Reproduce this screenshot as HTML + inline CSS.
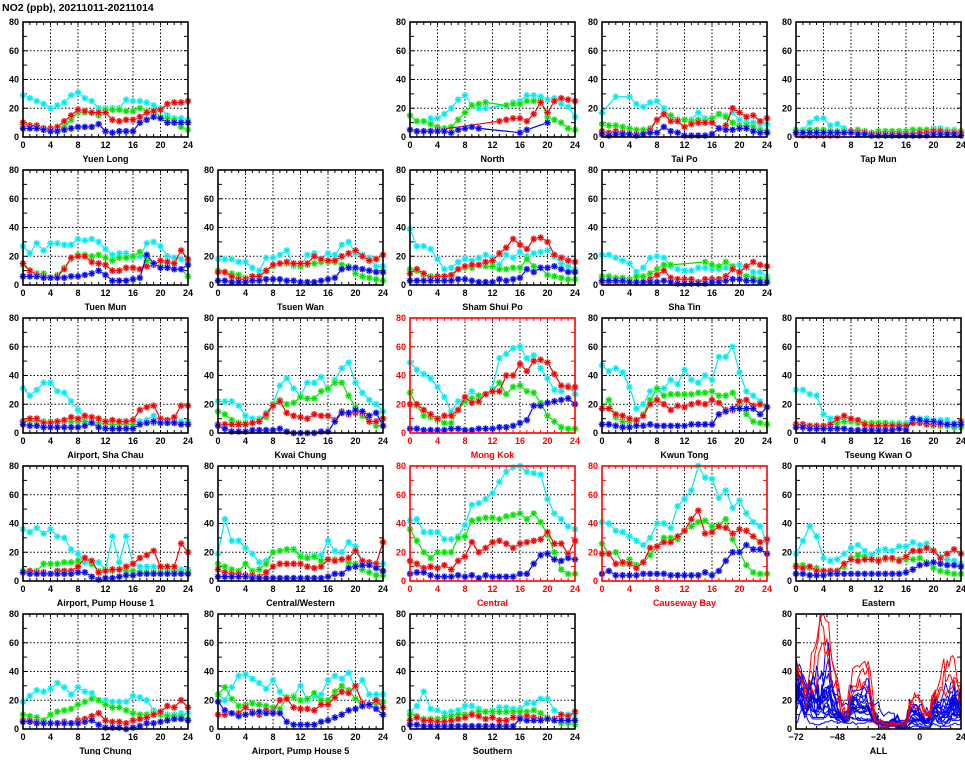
<!DOCTYPE html>
<html><head><meta charset="utf-8">
<style>
html,body{margin:0;padding:0;background:#fff;}
body{width:965px;height:755px;overflow:hidden;}
svg text{font-family:"Liberation Sans",sans-serif;font-weight:bold;}
</style></head>
<body>
<svg id="chart" width="965" height="755" viewBox="0 0 965 755" xmlns="http://www.w3.org/2000/svg">
<rect width="965" height="755" fill="#fff"/>
<text x="2" y="11" font-size="10.5" fill="#000">NO2 (ppb), 20211011-20211014</text>
</svg>
<script>
const _ = null;
const stationNames = ["Yuen Long","North","Tai Po","Tap Mun","Tuen Mun","Tsuen Wan","Sham Shui Po","Sha Tin","Airport, Sha Chau","Kwai Chung","Mong Kok","Kwun Tong","Tseung Kwan O","Airport, Pump House 1","Central/Western","Central","Causeway Bay","Eastern","Tung Chung","Airport, Pump House 5","Southern"];
const roadsideStations = ["Mong Kok","Central","Causeway Bay"];
const hours = [0,1,2,3,4,5,6,7,8,9,10,11,12,13,14,15,16,17,18,19,20,21,22,23,24];
const xTicks = [0,4,8,12,16,20,24];
const yTicks = [0,20,40,60,80];
const allXTicks = [-72,-48,-24,0,24];

const cyanData = [
[29,27,25,23,20,22,24,29,31,27,25,20,20,20,20,26,25,25,24,22,20,15,13,13,12],
[_,_,_,13,13,16,20,26,29,22,20,20,_,_,22,24,25,29,29,28,26,27,23,21,14],
[17,_,28,_,28,23,21,24,25,20,13,12,12,12,17,13,13,16,15,17,12,10,10,9,9],
[4,5,10,13,13,8,9,6,4,4,4,3,3,3,3,4,4,5,5,5,6,6,5,5,4],
[27,22,29,24,29,29,28,28,32,31,32,30,25,21,22,22,19,20,29,30,27,20,19,18,16],
[18,18,18,16,16,12,10,19,19,21,24,13,13,21,22,18,22,21,28,30,22,21,19,13,13],
[39,27,27,25,18,11,12,16,18,17,19,21,19,14,21,19,23,20,22,23,24,20,15,13,11],
[21,21,19,17,15,9,12,19,20,19,13,11,10,10,12,12,11,11,12,13,14,12,9,9,6],
[31,26,30,35,35,29,28,22,16,10,8,8,8,8,8,8,8,8,9,12,8,8,8,8,8],
[22,22,22,19,12,10,10,14,20,33,38,31,26,35,35,39,30,37,45,49,35,28,23,20,15],
[49,44,41,38,32,25,15,22,24,29,25,27,31,52,55,59,60,52,54,45,38,30,29,33,27],
[47,43,45,42,32,17,20,29,30,31,37,34,44,37,35,40,37,53,53,60,42,29,26,22,18],
[30,30,27,26,13,10,10,10,10,8,7,7,7,7,7,7,7,10,10,10,9,9,9,7,7],
[36,34,37,33,36,31,30,22,19,13,12,13,8,31,13,31,12,10,10,10,9,8,8,8,8],
[19,43,28,28,23,19,13,14,20,21,22,22,18,17,18,18,28,21,20,27,24,13,13,12,12],
[42,43,34,34,34,29,29,31,39,53,54,57,61,69,76,79,80,76,75,74,57,47,43,38,36],
[41,40,35,34,31,28,25,30,40,40,37,52,57,63,80,72,71,58,63,51,56,47,41,38,27],
[19,28,38,31,16,14,15,19,23,25,21,18,21,22,21,24,24,27,25,26,21,17,15,14,12],
[19,23,27,26,28,32,29,24,29,26,25,20,20,19,19,19,23,22,20,13,11,10,10,11,11],
[24,20,29,37,38,35,32,28,34,26,21,23,30,20,23,24,34,37,35,39,28,34,24,24,24],
[12,16,26,14,13,11,12,13,16,16,14,12,13,15,15,14,14,18,18,21,21,13,10,10,10]
];
const greenData = [
[9,7,7,6,5,5,7,12,17,17,17,15,19,19,19,18,18,20,18,18,14,13,12,7,5],
[15,11,11,9,7,6,7,12,17,22,23,24,_,_,22,23,23,25,25,25,14,12,10,6,5],
[9,8,8,7,6,5,5,6,12,16,15,12,12,11,12,11,13,16,14,10,8,8,7,5,4],
[5,4,5,5,5,4,4,4,4,5,4,3,4,4,4,4,4,5,5,5,5,5,4,4,4],
[14,10,8,8,5,7,12,18,21,21,20,21,19,17,19,19,20,23,17,14,13,13,11,11,6],
[10,9,8,7,5,6,6,10,13,15,15,14,13,14,15,16,16,16,14,13,8,6,5,4,3],
[11,10,7,6,6,6,6,11,12,12,14,13,13,11,11,12,12,18,13,12,7,6,5,4,4],
[6,6,5,5,4,6,6,8,11,14,14,_,_,_,_,16,14,13,16,13,8,6,5,4,4],
[8,8,8,8,8,8,8,8,8,8,7,7,6,6,6,6,6,6,7,7,7,7,7,6,6],
[15,13,9,7,7,7,9,11,20,23,20,21,25,24,24,29,31,35,35,26,18,12,8,5,5],
[28,19,12,11,9,7,7,16,22,24,26,27,29,35,27,32,33,29,28,21,12,8,4,3,3],
[17,23,11,8,8,8,13,23,31,26,27,27,27,27,28,28,29,26,26,28,19,13,8,7,6],
[6,6,5,5,5,5,7,8,8,7,7,7,7,7,6,6,6,7,7,7,5,5,5,4,4],
[7,7,7,12,12,12,13,13,14,16,12,7,8,7,8,7,7,6,6,6,6,6,7,6,6],
[12,10,8,7,12,7,8,12,20,21,22,22,17,16,17,14,15,15,15,13,12,8,6,4,4],
[36,28,20,16,20,20,20,30,31,42,43,44,44,43,45,46,47,43,47,41,32,20,8,5,5],
[26,19,20,12,15,11,13,18,24,30,30,29,35,38,41,42,38,39,43,29,20,11,6,5,5],
[11,11,9,9,7,7,7,10,16,18,17,15,15,15,15,15,15,15,16,13,9,7,6,5,5],
[10,9,8,6,10,12,13,14,17,19,21,20,17,15,15,13,11,10,10,11,10,9,9,9,7],
[24,29,21,16,17,18,17,16,15,14,22,22,20,21,25,20,20,26,30,27,21,16,17,18,19],
[10,9,7,7,7,8,9,10,10,11,12,12,12,12,12,12,12,12,13,11,8,7,4,4,3]
];
const redData = [
[10,8,8,6,6,7,11,15,19,18,17,17,17,12,11,12,12,14,17,18,19,23,24,24,25],
[_,_,4,4,5,_,_,_,_,_,_,_,_,11,12,13,13,11,16,24,17,25,27,26,25],
[4,3,4,3,2,2,2,5,12,16,11,11,7,9,10,10,10,6,8,20,17,14,15,11,13],
[2,1,1,1,1,1,1,3,4,3,3,2,2,2,2,2,2,2,3,3,4,4,3,3,3],
[15,10,7,6,5,6,11,19,20,20,16,15,14,10,10,12,12,11,13,14,17,16,15,24,18],
[9,9,6,4,4,6,6,10,14,15,16,15,15,15,20,18,17,17,20,22,24,20,17,18,21],
[8,11,8,5,6,6,7,11,13,14,14,16,17,22,26,32,28,25,32,33,30,21,19,17,16],
[2,2,2,2,2,2,2,4,7,10,5,4,4,4,2,4,4,4,6,11,9,13,16,14,13],
[8,10,10,7,7,8,9,11,10,12,11,10,8,9,8,8,9,16,18,19,10,9,11,19,19],
[6,6,6,6,6,7,8,13,19,22,14,12,11,10,13,12,12,9,15,13,14,14,8,8,10],
[20,20,16,13,10,12,12,16,25,21,22,27,29,29,40,40,48,43,50,51,49,41,33,32,32],
[17,17,13,12,10,9,12,20,23,20,16,19,18,20,21,20,23,21,16,16,22,23,19,20,18],
[6,6,5,5,5,6,10,12,10,9,6,5,5,5,5,5,5,7,7,6,6,6,6,6,8],
[6,7,6,6,5,7,7,7,10,16,14,6,7,8,8,10,12,16,18,21,10,10,10,26,20],
[8,6,5,5,4,4,3,6,10,12,12,12,12,10,9,10,15,14,15,16,21,14,13,12,27],
[14,12,9,10,9,11,8,14,17,27,20,23,27,28,26,23,26,27,28,29,34,26,26,19,28],
[19,19,12,13,12,9,13,23,24,27,27,31,35,43,49,33,34,38,37,33,36,35,31,27,29],
[10,9,10,7,7,7,7,12,15,14,15,15,14,16,16,14,17,21,21,23,21,16,19,22,19],
[6,6,5,4,4,4,5,4,6,7,9,11,6,5,5,4,6,7,8,10,12,16,15,20,15],
[10,10,11,11,15,12,10,13,12,20,21,15,14,14,13,17,17,22,26,25,30,18,16,20,15],
[6,8,6,6,5,5,6,7,8,10,9,7,8,6,6,8,8,9,8,7,7,7,10,9,12]
];
const blueData = [
[6,6,6,5,4,4,5,6,7,7,7,9,4,3,4,4,4,10,12,14,13,10,10,10,10],
[5,4,4,4,4,4,3,5,6,7,6,_,_,_,_,_,3,5,_,_,10,_,_,_,_],
[2,1,2,2,2,1,2,3,3,7,4,3,1,1,1,1,2,6,5,5,6,6,4,3,3],
[3,3,3,3,3,3,3,3,3,2,2,1,1,1,1,1,1,1,1,1,2,2,2,2,1],
[6,6,6,5,5,5,5,6,6,7,8,10,7,3,3,3,4,5,21,15,12,12,11,11,14],
[3,3,2,2,2,3,3,4,4,4,3,3,2,2,2,3,4,5,11,12,12,11,10,9,9],
[3,3,3,3,3,3,3,4,4,3,2,2,2,4,3,4,5,11,9,12,12,13,11,9,9],
[3,3,3,3,2,2,2,2,2,3,2,1,1,1,1,1,2,2,3,4,4,3,3,2,2],
[6,5,5,4,4,4,4,4,4,5,7,4,3,3,3,3,3,6,7,8,7,7,7,6,6],
[5,3,1,1,1,2,2,2,2,3,1,0,0,0,0,1,1,8,14,14,16,15,12,14,5],
[3,3,2,2,2,2,3,3,2,2,3,3,3,4,4,5,7,9,19,19,21,22,23,24,20],
[6,6,5,4,4,5,5,6,5,5,5,5,5,6,6,6,6,13,15,17,17,17,17,13,18],
[4,4,3,3,3,3,3,3,2,2,2,2,2,2,2,3,2,10,9,8,8,7,6,6,6],
[6,5,5,5,5,5,5,5,6,6,3,1,2,2,3,4,4,5,5,5,5,5,5,5,5],
[3,3,3,3,3,2,2,2,2,2,2,2,2,2,2,2,3,5,5,9,10,11,11,9,7],
[5,6,6,4,3,3,3,4,3,4,2,4,3,3,3,3,5,5,12,18,19,15,14,16,15],
[5,7,4,4,4,4,5,5,5,5,4,4,4,4,4,6,4,7,14,20,20,25,22,22,19],
[5,5,4,4,4,5,5,5,5,5,5,5,5,5,5,5,6,8,11,12,13,12,11,11,10],
[5,5,4,4,4,4,4,4,4,5,6,3,1,1,1,0,1,2,4,4,5,6,7,7,6],
[19,13,11,9,10,11,12,11,11,11,5,3,3,3,3,5,6,8,10,13,14,16,17,14,10],
[3,3,2,2,2,2,2,2,2,2,2,2,2,2,2,2,7,6,6,6,7,6,6,6,6]
];

const NS = "http://www.w3.org/2000/svg";
const svg = document.getElementById("chart");
const colLeft = [23, 218, 410, 602, 796];
const PW = 165, PH = 115;
const slots = [[0,0],[0,2],[0,3],[0,4],[1,0],[1,1],[1,2],[1,3],[2,0],[2,1],[2,2],[2,3],[2,4],[3,0],[3,1],[3,2],[3,3],[3,4],[4,0],[4,1],[4,2]];
const seriesColors = ["#00e8f0","#00e000","#f00000","#0000f0"];
const seriesFills = ["#a0ffff","#a0ffa0","#ffa0a0","#a0a0ff"];
const seriesNames = ["cyan-series","green-series","red-series","blue-series"];

function mk(tag, attrs, parent) {
  const e = document.createElementNS(NS, tag);
  for (const k in attrs) e.setAttribute(k, attrs[k]);
  (parent || svg).appendChild(e);
  return e;
}

function drawFrame(g, x0, y0, w, h, xmin, xmax, xt, col, minorX) {
  const sx = v => x0 + (v - xmin) / (xmax - xmin) * w;
  const sy = v => y0 + h - v / 80 * h;
  xt.forEach(t => {
    if (t !== xmin && t !== xmax) {
      const gl = mk("line", {x1: sx(t), x2: sx(t), y1: y0, y2: y0 + h, stroke: "#000", "stroke-width": 1, "stroke-dasharray": "1.5,2"}, g);
      
      
    }
    const tl = mk("text", {x: sx(t), y: y0 + h + 11, "font-size": 9, "text-anchor": "middle", fill: col}, g);
    
    
    tl.textContent = t < 0 ? "\u2212" + (-t) : String(t);
  });
  for (let m = xmin; m <= xmax; m += minorX) {
    const tk = mk("line", {x1: sx(m), x2: sx(m), y1: y0 + h, y2: y0 + h - 3, stroke: col, "stroke-width": 1}, g);
    
    
    const tk2 = mk("line", {x1: sx(m), x2: sx(m), y1: y0, y2: y0 + 3, stroke: col, "stroke-width": 1}, g);
    
    
  }
  yTicks.forEach(t => {
    if (t !== 0 && t !== 80) {
      const gl = mk("line", {x1: x0, x2: x0 + w, y1: sy(t), y2: sy(t), stroke: "#000", "stroke-width": 1, "stroke-dasharray": "1.5,2"}, g);
      
      
    }
    const tl = mk("text", {x: x0 - 4, y: sy(t) + 3, "font-size": 9, "text-anchor": "end", fill: col}, g);
    
    
    tl.textContent = String(t);
  });
  for (let m = 0; m <= 80; m += 10) {
    const tk = mk("line", {x1: x0, x2: x0 + 4, y1: sy(m), y2: sy(m), stroke: col, "stroke-width": 1}, g);
    
    
    const tk2 = mk("line", {x1: x0 + w, x2: x0 + w - 4, y1: sy(m), y2: sy(m), stroke: col, "stroke-width": 1}, g);
    
    
  }
  return {sx, sy};
}

function addFrameRect(g, x0, y0, w, h, col) {
  const r = mk("rect", {x: x0, y: y0, width: w, height: h, fill: "none", stroke: col, "stroke-width": 1.6}, g);
  
  
}

function starPath(x, y) {
  const r = 3.2, d = 2.3;
  return `M${x-r},${y}H${x+r}M${x},${y-r}V${y+r}M${x-d},${y-d}L${x+d},${y+d}M${x-d},${y+d}L${x+d},${y-d}`;
}

stationNames.forEach((name, i) => {
  const [row, colIdx] = slots[i];
  const x0 = colLeft[colIdx], y0 = 22 + 148 * row;
  const road = roadsideStations.includes(name);
  const fc = road ? "#f00" : "#000";
  const g = mk("g", {});
  
  
  const {sx, sy} = drawFrame(g, x0, y0, PW, PH, 0, 24, xTicks, fc, 1);
  const series = [cyanData[i], greenData[i], redData[i], blueData[i]];
  series.forEach((vals, s) => {
    const pts = [];
    vals.forEach((v, h) => { if (v !== null) pts.push([sx(hours[h]), sy(v)]); });
    const pl = mk("polyline", {points: pts.map(p => p.join(",")).join(" "), fill: "none", stroke: seriesColors[s], "stroke-width": 1.2}, g);
    
    
    let d = "";
    pts.forEach(p => { d += starPath(p[0], p[1]); });
    const bg = mk("path", {d: d, stroke: seriesFills[s], "stroke-width": 3, fill: "none"}, g);
    
    
    const mp = mk("path", {d: d, stroke: seriesColors[s], "stroke-width": 1.1, fill: "none"}, g);
    
    
  });
  addFrameRect(g, x0, y0, PW, PH, fc);
  const t = mk("text", {x: x0 + PW / 2, y: y0 + PH + 25, "font-size": 9, "text-anchor": "middle", fill: fc}, g);
  
  
  t.textContent = name;
});

// ALL panel
(function () {
  const x0 = colLeft[4], y0 = 22 + 148 * 4;
  const g = mk("g", {});
  
  
  const {sx, sy} = drawFrame(g, x0, y0, PW, PH, -72, 24, allXTicks, "#000", 6);
  const clip = mk("clipPath", {id: "allclip"}, g);
  mk("rect", {x: x0, y: y0, width: PW, height: PH}, clip);
  const lines = mk("g", {"clip-path": "url(#allclip)"}, g);
  
  
  const order = stationNames.map((n, i) => i).sort((a, b) => (roadsideStations.includes(stationNames[a]) ? 1 : 0) - (roadsideStations.includes(stationNames[b]) ? 1 : 0));
  order.forEach(i => {
    const road = roadsideStations.includes(stationNames[i]);
    const days = [cyanData[i], greenData[i], blueData[i], redData[i]];
    const pts = [];
    days.forEach((vals, d) => {
      vals.forEach((v, h) => {
        if (v === null) return;
        if (h === 24 && d < 3) return;
        pts.push([sx(-72 + 24 * d + hours[h]), sy(v)]);
      });
    });
    const pl = mk("polyline", {points: pts.map(p => p.join(",")).join(" "), fill: "none", stroke: road ? "#f00" : "#0000f0", "stroke-width": 1}, lines);
    
    
  });
  addFrameRect(g, x0, y0, PW, PH, "#000");
  const t = mk("text", {x: x0 + PW / 2, y: y0 + PH + 25, "font-size": 9, "text-anchor": "middle", fill: "#000"}, g);
  
  
  t.textContent = "ALL";
})();
</script>
</body></html>
